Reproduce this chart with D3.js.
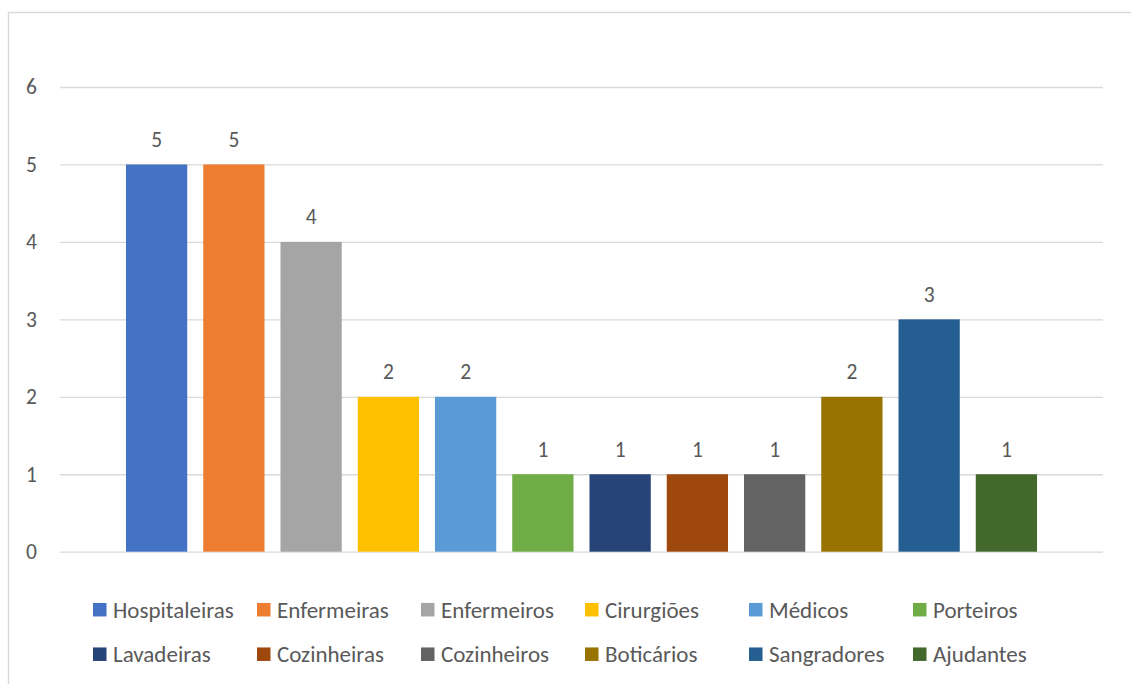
<!DOCTYPE html>
<html>
<head>
<meta charset="utf-8">
<script src="https://cdn.jsdelivr.net/npm/d3@7"></script>
<style>
  html, body { margin: 0; padding: 0; background: #fff; }
  svg { display: block; }
  text { font-family: Carlito, Calibri, Lato, sans-serif; fill: #595959; }
</style>
</head>
<body>
<svg id="chart" width="1131" height="684"></svg>
<script>
// Staff categories and their counts
const categories = ["Hospitaleiras", "Enfermeiras", "Enfermeiros", "Cirurgiões", "Médicos", "Porteiros",
                    "Lavadeiras", "Cozinheiras", "Cozinheiros", "Boticários", "Sangradores", "Ajudantes"];
const values = [5, 5, 4, 2, 2, 1, 1, 1, 1, 2, 3, 1];
const colors = ["#4472C4", "#ED7D31", "#A5A5A5", "#FFC000", "#5B9BD5", "#70AD47",
                "#264478", "#9E480E", "#636363", "#997300", "#255E91", "#43682B"];
const yTicks = [0, 1, 2, 3, 4, 5, 6];

const svg = d3.select("#chart");
const W = 1131, H = 684;

// Chart frame (extends past the visible area on the right and bottom)
svg.append("rect")
  .attr("x", 8.5).attr("y", 12.5)
  .attr("width", W + 50).attr("height", H + 50)
  .attr("fill", "#fff")
  .attr("stroke", "#d9d9d9").attr("stroke-width", 1.5);

const plot = { left: 60, right: 1103, top: 87, bottom: 551.7 };

const y = d3.scaleLinear().domain([0, 6]).range([plot.bottom, plot.top]);
const x = d3.scaleBand().domain(categories).range([plot.left, plot.right])
  .paddingInner(0.207).paddingOuter(0.854);

// Horizontal gridlines and y tick labels
const yAxis = d3.axisLeft(y).tickValues(yTicks).tickFormat(d3.format("d"))
  .tickSize(-(plot.right - plot.left)).tickPadding(23);
const gy = svg.append("g").attr("transform", `translate(${plot.left},0)`).call(yAxis);
gy.select(".domain").remove();
gy.selectAll(".tick line").attr("stroke", "#d9d9d9").attr("stroke-width", 1.3);
gy.selectAll(".tick text")
  .attr("font-size", 21.5).attr("fill", "#595959")
  .style("font-family", "Carlito, Calibri, Lato, sans-serif");

// Bars
svg.append("g").selectAll("rect")
  .data(categories)
  .join("rect")
  .attr("x", d => x(d))
  .attr("width", x.bandwidth())
  .attr("y", (d, i) => y(values[i]))
  .attr("height", (d, i) => y(0) - y(values[i]))
  .attr("fill", (d, i) => colors[i]);

// Value labels
svg.append("g").selectAll("text")
  .data(categories)
  .join("text")
  .attr("x", d => x(d) + x.bandwidth() / 2)
  .attr("y", (d, i) => y(values[i]) - 17.5)
  .attr("text-anchor", "middle")
  .attr("font-size", 21.5)
  .attr("fill", "#404040")
  .text((d, i) => values[i]);

// Legend: two rows of six entries
const legendX0 = 93, legendStep = 164, legendRows = [609.7, 654.2], sw = 13.5;
const legend = svg.append("g").selectAll("g")
  .data(categories)
  .join("g")
  .attr("transform", (d, i) => `translate(${legendX0 + (i % 6) * legendStep},${legendRows[Math.floor(i / 6)]})`);
legend.append("rect")
  .attr("x", 0).attr("y", -sw / 2)
  .attr("width", sw).attr("height", sw)
  .attr("fill", (d, i) => colors[i]);
legend.append("text")
  .attr("x", 20).attr("y", 0).attr("dy", "0.36em")
  .attr("font-size", 23)
  .text(d => d);
</script>
</body>
</html>
